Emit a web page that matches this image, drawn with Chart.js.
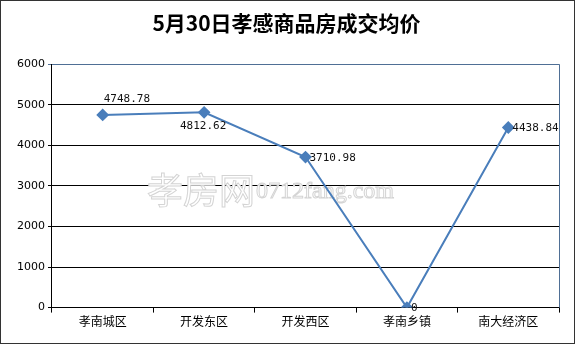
<!DOCTYPE html>
<html lang="zh">
<head>
<meta charset="UTF-8">
<title>5月30日孝感商品房成交均价</title>
<script src="https://cdn.jsdelivr.net/npm/chart.js"></script>
<style>
    html, body { margin: 0; padding: 0; background: #fff; }
    .frame {
        width: 575px;
        height: 344px;
        box-sizing: border-box;
        border: 1px solid #333;
        position: relative;
    }
    canvas { display: block; }
</style>
</head>
<body>
<div class="frame">
    <canvas id="priceChart" width="573" height="342"></canvas>
</div>
<script>
// chart data
const categories = ['孝南城区', '开发东区', '开发西区', '孝南乡镇', '南大经济区'];
const avgPrice = [4748.78, 4812.62, 3710.98, 0, 4438.84];
const priceLabels = ['4748.78', '4812.62', '3710.98', '0', '4438.84'];
const labelSide = ['above', 'below', 'right', 'right', 'right'];
const yTicks = [0, 1000, 2000, 3000, 4000, 5000, 6000];

const lineBlue = '#4a7ebb';

// value labels next to each point
const valueLabels = {
    id: 'valueLabels',
    afterDatasetsDraw(chart) {
        const ctx = chart.ctx;
        const pts = chart.getDatasetMeta(0).data;
        ctx.save();
        ctx.font = '11px "DejaVu Sans Mono", monospace';
        ctx.fillStyle = '#111';
        pts.forEach((p, i) => {
            const side = labelSide[i];
            if (side === 'above') {
                ctx.textAlign = 'left';
                ctx.textBaseline = 'bottom';
                ctx.fillText(priceLabels[i], p.x + 1, p.y - 10);
            } else if (side === 'below') {
                ctx.textAlign = 'center';
                ctx.textBaseline = 'top';
                ctx.fillText(priceLabels[i], p.x - 1, p.y + 8);
            } else {
                ctx.textAlign = 'left';
                ctx.textBaseline = 'middle';
                ctx.fillText(priceLabels[i], p.x + 4, p.y + 1);
            }
        });
        ctx.restore();
    }
};

// faint outlined watermark and right border of the plot area
const extras = {
    id: 'extras',
    beforeDatasetsDraw(chart) {
        const ctx = chart.ctx;
        const a = chart.chartArea;
        ctx.save();
        ctx.strokeStyle = '#4f6f95';
        ctx.lineWidth = 1;
        ctx.beginPath();
        ctx.moveTo(a.right + 0.5, a.top);
        ctx.lineTo(a.right + 0.5, a.bottom);
        ctx.stroke();

        ctx.strokeStyle = '#d4d4d4';
        ctx.fillStyle = '#fff';
        ctx.lineWidth = 1;
        ctx.textBaseline = 'alphabetic';
        ctx.font = '36px "Noto Sans CJK SC"';
        ctx.fillText('孝房网', 146, 203);
        ctx.strokeText('孝房网', 146, 203);
        ctx.font = '24px "Liberation Serif", serif';
        ctx.fillText('0712fang.com', 255, 197);
        ctx.strokeText('0712fang.com', 255, 197);
        ctx.restore();
    }
};

new Chart(document.getElementById('priceChart'), {
    type: 'line',
    data: {
        labels: categories,
        datasets: [{
            data: avgPrice,
            borderColor: lineBlue,
            backgroundColor: lineBlue,
            borderWidth: 2,
            pointStyle: 'rectRot',
            pointRadius: 5,
            pointHoverRadius: 5,
            tension: 0
        }]
    },
    options: {
        responsive: false,
        animation: false,
        layout: { padding: { left: 13, right: 15, top: 0, bottom: 12 } },
        plugins: {
            legend: { display: false },
            tooltip: { enabled: false },
            title: {
                display: true,
                text: '5月30日孝感商品房成交均价',
                color: '#000',
                font: { family: '"Noto Sans CJK SC"', size: 21, weight: 'bold' },
                padding: { top: 9, bottom: 29 }
            }
        },
        scales: {
            x: {
                offset: true,
                grid: {
                    offset: true,
                    drawOnChartArea: false,
                    color: '#000',
                    tickLength: 5
                },
                border: { color: '#000', width: 1 },
                ticks: {
                    color: '#000',
                    padding: 2,
                    font: { family: '"Noto Sans CJK SC"', size: 12 },
                    maxRotation: 0
                }
            },
            y: {
                min: 0,
                max: 6000,
                afterBuildTicks(axis) {
                    axis.ticks = yTicks.map(v => ({ value: v }));
                },
                grid: {
                    color: ctx => ctx.tick && ctx.tick.value === 6000 ? '#4f6f95' : '#000',
                    tickLength: 4
                },
                border: { color: '#000', width: 1 },
                ticks: {
                    color: '#000',
                    padding: 3,
                    font: { family: '"DejaVu Sans"', size: 11 },
                    callback: v => String(v)
                }
            }
        }
    },
    plugins: [extras, valueLabels]
});
</script>
</body>
</html>
